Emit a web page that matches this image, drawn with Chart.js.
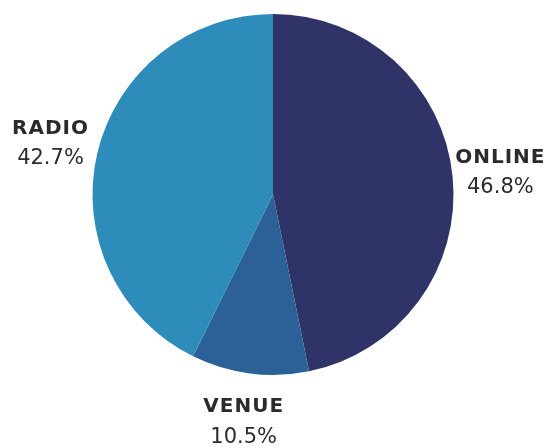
<!DOCTYPE html>
<html>
<head>
<meta charset="utf-8">
<script src="https://cdn.jsdelivr.net/npm/chart.js@4"></script>
<style>
  html, body { margin: 0; padding: 0; background: #fff; }
  #wrap { width: 547px; height: 448px; }
</style>
</head>
<body>
<div id="wrap"><canvas id="pie"></canvas></div>
<script>
// Share by channel
const labels = ['ONLINE', 'VENUE', 'RADIO'];
const values = [46.8, 10.5, 42.7];
const colors = ['#2f3368', '#2c6198', '#2e8cbb'];

// Draw the category + percent labels outside each slice
const outsideLabels = {
    id: 'outsideLabels',
    afterDraw(chart) {
        const ctx = chart.ctx;
        const meta = chart.getDatasetMeta(0);
        ctx.save();
        ctx.fillStyle = '#2b2b2b';
        ctx.textAlign = 'center';
        ctx.textBaseline = 'middle';
        meta.data.forEach((arc, i) => {
            const p = arc.getProps(['x', 'y', 'startAngle', 'endAngle', 'outerRadius'], true);
            const mid = (p.startAngle + p.endAngle) / 2;
            const r = p.outerRadius + 48;
            const x = p.x + Math.cos(mid) * r;
            const y = p.y + Math.sin(mid) * r;
            ctx.font = 'bold 20px "DejaVu Sans", sans-serif';
            ctx.letterSpacing = '1px';
            ctx.fillText(labels[i], x, y - 14);
            ctx.font = '21px "DejaVu Sans", sans-serif';
            ctx.letterSpacing = '0px';
            ctx.fillText(values[i].toFixed(1) + '%', x, y + 16);
        });
        ctx.restore();
    }
};

new Chart(document.getElementById('pie').getContext('2d'), {
    type: 'pie',
    data: {
        labels: labels,
        datasets: [{
            data: values,
            backgroundColor: colors,
            borderWidth: 0
        }]
    },
    options: {
        responsive: true,
        maintainAspectRatio: false,
        animation: false,
        layout: {
            padding: { top: 14, bottom: 73, left: 92, right: 93 }
        },
        plugins: {
            legend: { display: false },
            tooltip: { enabled: false }
        }
    },
    plugins: [outsideLabels]
});
</script>
</body>
</html>
